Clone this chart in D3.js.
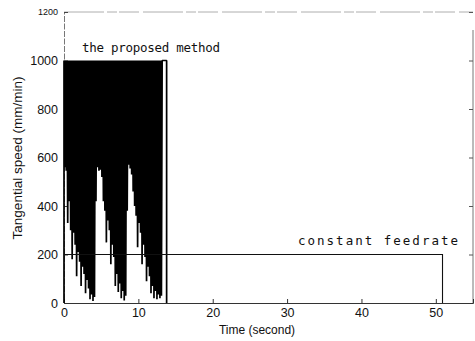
<!DOCTYPE html>
<html>
<head>
<meta charset="utf-8">
<script src="https://cdn.jsdelivr.net/npm/d3@7"></script>
<style>
  html, body { margin: 0; padding: 0; background: #fff; }
  svg { display: block; }
  text { font-family: "Liberation Sans", Arial, sans-serif; fill: #111; }
</style>
</head>
<body>
<div id="chart"></div>
<script>
// ---- data ----
const yTickValues = [0, 200, 400, 600, 800, 1000, 1200];
const xTickValues = [0, 10, 20, 30, 40, 50];

const proposedTime = [
  0, 0, 0.1, 0.2, 0.3, 0.4, 0.5, 0.6, 0.7, 0.8, 0.9, 1.0, 1.1, 1.2, 1.3, 1.4, 1.5, 1.6, 1.7, 1.8, 1.9, 2.0,
  2.1, 2.2, 2.3, 2.4, 2.5, 2.6, 2.7, 2.8, 2.9, 3.0, 3.1, 3.2, 3.3, 3.4, 3.5, 3.6, 3.7, 3.8, 3.9, 4.0,
  4.1, 4.2, 4.3, 4.4, 4.5, 4.6, 4.7, 4.8, 4.9, 5.0, 5.1, 5.2, 5.3, 5.4, 5.5, 5.6, 5.7, 5.8, 5.9, 6.0,
  6.1, 6.2, 6.3, 6.4, 6.5, 6.6, 6.7, 6.8, 6.9, 7.0, 7.1, 7.2, 7.3, 7.4, 7.5, 7.6, 7.7, 7.8, 7.9, 8.0,
  8.1, 8.2, 8.3, 8.4, 8.5, 8.6, 8.7, 8.8, 8.9, 9.0, 9.1, 9.2, 9.3, 9.4, 9.5, 9.6, 9.7, 9.8, 9.9, 10.0,
  10.1, 10.2, 10.3, 10.4, 10.5, 10.6, 10.7, 10.8, 10.9, 11.0, 11.1, 11.2, 11.3, 11.4, 11.5, 11.6, 11.7, 11.8, 11.9, 12.0,
  12.1, 12.2, 12.3, 12.4, 12.5, 12.6, 12.7, 12.8, 12.9, 13.0, 13.1, 13.2, 13.8, 13.8
];
const proposedSpeed = [
  0, 1000, 560, 1000, 545, 1000, 330, 1000, 420, 1000, 300, 1000, 180, 1000, 290, 1000, 240, 1000, 110, 1000, 210, 1000,
  170, 1000, 70, 1000, 150, 1000, 120, 1000, 40, 1000, 95, 1000, 60, 1000, 15, 1000, 35, 1000, 8, 1000,
  25, 1000, 420, 1000, 560, 1000, 545, 1000, 550, 1000, 520, 1000, 420, 1000, 380, 1000, 250, 1000, 340, 1000,
  300, 1000, 160, 1000, 240, 1000, 190, 1000, 70, 1000, 120, 1000, 45, 1000, 80, 1000, 20, 1000, 50, 1000,
  10, 1000, 30, 1000, 380, 1000, 570, 1000, 555, 1000, 530, 1000, 460, 1000, 400, 1000, 360, 1000, 230, 1000,
  330, 1000, 290, 1000, 160, 1000, 240, 1000, 190, 1000, 90, 1000, 150, 1000, 110, 1000, 40, 1000, 70, 1000,
  20, 1000, 50, 1000, 15, 1000, 35, 1000, 20, 1000, 30, 1000, 1000, 0
];

const constantTime = [0, 50.9, 50.9];
const constantSpeed = [200, 200, 0];

const labels = {
  proposed: "the proposed method",
  constant: "constant feedrate",
  xTitle: "Time (second)",
  yTitle: "Tangential speed (mm/min)"
};

// ---- layout ----
const W = 475, H = 341;
const L = 64, R = 473, T = 12, B = 303;

const svg = d3.select("#chart").append("svg").attr("width", W).attr("height", H);

const x = d3.scaleLinear().domain([0, 55]).range([L, R]);
const y = d3.scaleLinear().domain([0, 1200]).range([B, T]);

// frame
svg.append("line").attr("x1", L).attr("x2", R).attr("y1", T).attr("y2", T)
  .attr("stroke", "#999").attr("stroke-width", 0.8).attr("stroke-dasharray", "40,3,10,2,20,4");
svg.append("line").attr("x1", R).attr("x2", R).attr("y1", T + 18).attr("y2", B)
  .attr("stroke", "#666").attr("stroke-width", 0.9);

// axes
const yAxis = d3.axisLeft(y).tickValues(yTickValues).tickSize(-4).tickPadding(6).tickFormat(d3.format("d"));
const gy = svg.append("g").attr("transform", `translate(${L},0)`).call(yAxis);
gy.select(".domain").attr("stroke", "#777").attr("stroke-dasharray", "6,1.5");
gy.selectAll(".tick line").attr("stroke", "#444");
gy.selectAll(".tick text").style("font-size", "12.5px").style("font-family", "Liberation Sans, Arial, sans-serif").attr("fill", "#111");
gy.selectAll(".tick").filter(d => d === 1200).select("text").attr("fill", "#aaa").style("font-size", "9px");

const yAxisR = d3.axisRight(y).tickValues(yTickValues).tickSize(-4).tickFormat("");
const gyr = svg.append("g").attr("transform", `translate(${R},0)`).call(yAxisR);
gyr.select(".domain").remove();
gyr.selectAll(".tick line").attr("stroke", "#555");

const xAxis = d3.axisBottom(x).tickValues(xTickValues).tickSize(-4).tickPadding(5);
const gx = svg.append("g").attr("transform", `translate(0,${B})`).call(xAxis);
gx.select(".domain").attr("stroke", "#333").attr("stroke-width", 1);
gx.selectAll(".tick line").attr("stroke", "#333");
gx.selectAll(".tick text").style("font-size", "12.5px").style("font-family", "Liberation Sans, Arial, sans-serif").attr("fill", "#111");

// series
const line = d3.line().x(d => x(d[0])).y(d => y(d[1]));
const proposed = proposedTime.map((t, i) => [t, proposedSpeed[i]]);
const constant = constantTime.map((t, i) => [t, constantSpeed[i]]);

svg.append("path").datum(proposed).attr("d", line)
  .attr("fill", "none").attr("stroke", "#000").attr("stroke-width", 1.7).attr("stroke-linejoin", "bevel");
svg.append("path").datum(constant).attr("d", line)
  .attr("fill", "none").attr("stroke", "#111").attr("stroke-width", 1.1);

// annotations
svg.append("text").attr("x", 82).attr("y", 52).attr("textLength", 138)
  .style("font-family", "DejaVu Sans Mono, monospace").style("font-size", "12.5px").text(labels.proposed);
svg.append("text").attr("x", 298).attr("y", 245).attr("textLength", 160)
  .style("font-family", "DejaVu Sans Mono, monospace").style("font-size", "12.5px").text(labels.constant);

// titles
svg.append("text").attr("x", 257).attr("y", 334).attr("text-anchor", "middle")
  .style("font-size", "12px").text(labels.xTitle);
svg.append("text").attr("transform", `translate(22,158) rotate(-90)`).attr("text-anchor", "middle")
  .style("font-size", "13.5px").text(labels.yTitle);
</script>
</body>
</html>
